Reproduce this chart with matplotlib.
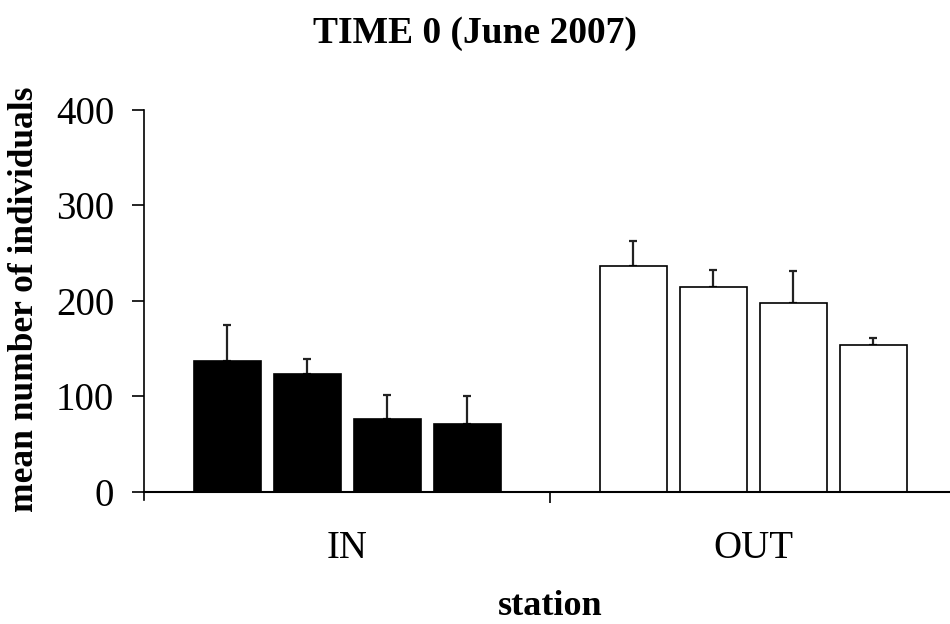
import numpy as np
import matplotlib
matplotlib.use("Agg")
import matplotlib.pyplot as plt

plt.rcParams['font.family'] = ['Liberation Serif', 'DejaVu Serif']

stations = ['IN', 'OUT']
in_means = [137, 123, 76, 71]
in_err = [38, 16, 25, 29]
out_means = [236, 214, 198, 154]
out_err = [27, 18, 33, 7]
yticks = [0, 100, 200, 300, 400]

fig = plt.figure(figsize=(9.5, 6.24), dpi=100)
ax = fig.add_axes([0.1516, 0.2123, 0.8484, 0.6114])

width = 0.165
pitch = 0.197
offs = (np.arange(4) - 1.5) * pitch
centers = np.array([0.5, 1.5])

# IN: filled bars, OUT: open bars, upper error bars only
ax.bar(centers[0] + offs, in_means, width, color='black', edgecolor='black',
       linewidth=1.2, zorder=2)
ax.errorbar(centers[0] + offs, in_means, yerr=[np.zeros(4), in_err], fmt='none',
            ecolor='#222222', elinewidth=1.6, capsize=2.8, capthick=1.6, zorder=1)

ax.bar(centers[1] + offs, out_means, width, color='white', edgecolor='black',
       linewidth=1.2, zorder=2)
ax.errorbar(centers[1] + offs, out_means, yerr=[np.zeros(4), out_err], fmt='none',
            ecolor='#222222', elinewidth=1.6, capsize=2.8, capthick=1.6, zorder=1)

ax.set_xlim(0, 1.985)
ax.set_ylim(0, 400)
ax.set_yticks(yticks)
ax.set_xticks([1.0])
ax.set_xticklabels([])
ax.set_xticks(centers, minor=True)
ax.set_xticklabels(stations, minor=True)
ax.tick_params(axis='x', which='minor', length=0, pad=28, labelsize=28)
ax.tick_params(axis='x', which='major', length=8, width=1.2, direction='out')
ax.tick_params(axis='y', length=8.5, width=1.2, direction='out', labelsize=28, pad=13)

for s in ['top', 'right']:
    ax.spines[s].set_visible(False)
ax.spines['left'].set_linewidth(1.2)
ax.spines['left'].set_bounds(-9, 400)
ax.spines['bottom'].set_linewidth(1.5)

fig.text(25 / 950, 0.521, 'mean number of individuals', rotation=90,
         ha='center', va='center', fontsize=25.5, fontweight='bold')
fig.text(550 / 950, 0.014, 'station', ha='center', va='baseline',
         fontsize=26, fontweight='bold')
fig.text(0.5, 0.947, 'TIME 0 (June 2007)', ha='center', va='center',
         fontsize=27, fontweight='bold')

fig.savefig('out.png', dpi=100)
